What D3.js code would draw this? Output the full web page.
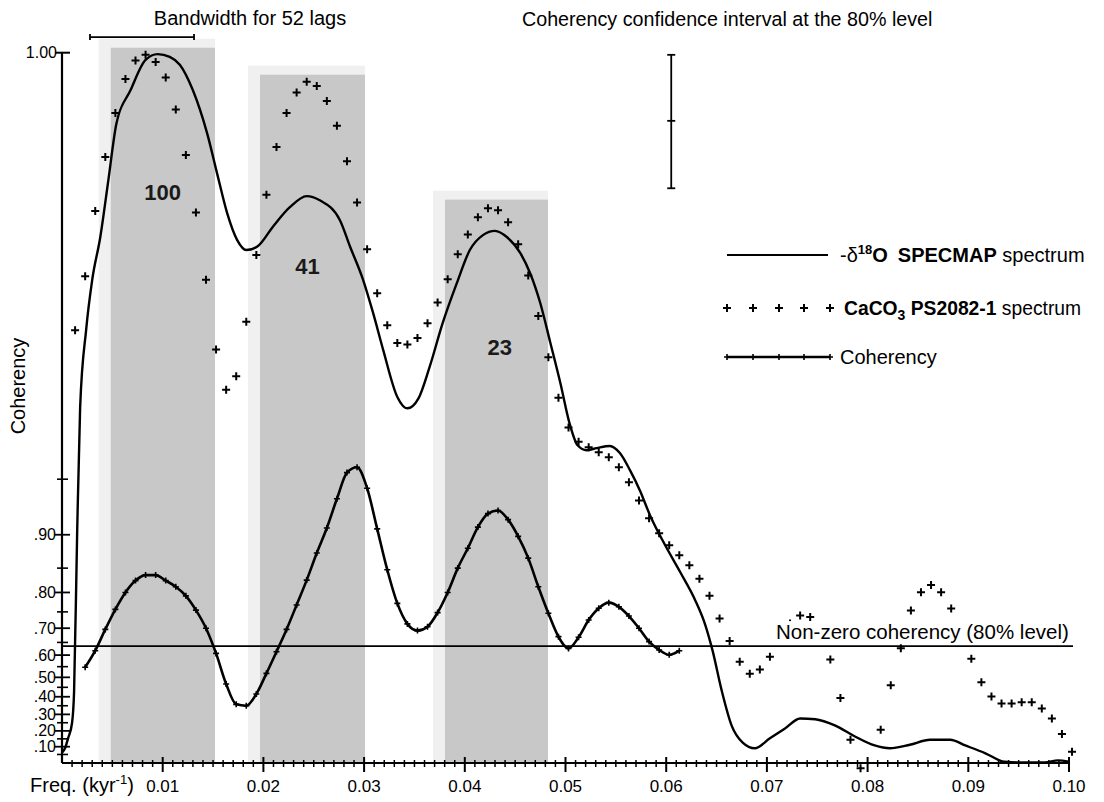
<!DOCTYPE html>
<html><head><meta charset="utf-8">
<script src="https://cdn.jsdelivr.net/npm/d3@7"></script>
<style>
body{margin:0;background:#fff;}
svg{display:block;font-family:"Liberation Sans", Arial, Helvetica, sans-serif;}
</style></head><body>
<svg id="chart" width="1104" height="802"></svg>
<script>
// ---------------- DATA ----------------
// -δ18O SPECMAP spectrum (normalised)
const specmapFreq = [0.0000,0.0003,0.0006,0.0010,0.0012,0.0015,0.0018,0.0024,0.0030,0.0038,0.0046,0.0054,0.0068,0.0083,0.0095,0.0107,0.0117,0.0130,0.0144,0.0154,0.0164,0.0174,0.0183,0.0194,0.0210,0.0226,0.0243,0.0256,0.0276,0.0286,0.0299,0.0309,0.0319,0.0333,0.0343,0.0354,0.0365,0.0378,0.0392,0.0405,0.0418,0.0430,0.0442,0.0455,0.0465,0.0475,0.0485,0.0495,0.0504,0.0512,0.0521,0.0531,0.0544,0.0554,0.0564,0.0574,0.0584,0.0599,0.0614,0.0629,0.0639,0.0646,0.0655,0.0665,0.0676,0.0688,0.0703,0.0718,0.0733,0.0748,0.0768,0.0787,0.0807,0.0822,0.0842,0.0862,0.0882,0.0897,0.0917,0.0936,0.0951,0.0976,0.0989,0.1000];
const specmapValue = [0.014,0.020,0.034,0.056,0.100,0.320,0.500,0.610,0.680,0.740,0.820,0.900,0.947,0.990,0.998,0.994,0.983,0.947,0.887,0.830,0.774,0.736,0.722,0.727,0.756,0.782,0.798,0.792,0.764,0.727,0.680,0.633,0.581,0.515,0.499,0.513,0.557,0.619,0.675,0.722,0.743,0.749,0.740,0.718,0.689,0.647,0.591,0.534,0.478,0.447,0.440,0.443,0.446,0.436,0.412,0.383,0.348,0.306,0.268,0.228,0.193,0.158,0.102,0.052,0.028,0.020,0.034,0.048,0.062,0.061,0.052,0.037,0.024,0.020,0.025,0.032,0.032,0.024,0.013,0.001,0.000,0.000,0.003,0.001];

// CaCO3 PS2082-1 spectrum (normalised), one value per frequency step
const caco3Freq = [0.0013,0.0023,0.0033,0.0043,0.0053,0.0063,0.0073,0.0083,0.0093,0.0103,0.0113,0.0123,0.0133,0.0143,0.0153,0.0163,0.0173,0.0183,0.0193,0.0203,0.0213,0.0223,0.0233,0.0243,0.0253,0.0263,0.0273,0.0283,0.0293,0.0303,0.0313,0.0323,0.0333,0.0343,0.0353,0.0363,0.0373,0.0383,0.0393,0.0403,0.0413,0.0423,0.0433,0.0443,0.0453,0.0463,0.0473,0.0483,0.0493,0.0503,0.0513,0.0523,0.0533,0.0543,0.0553,0.0563,0.0573,0.0583,0.0593,0.0603,0.0613,0.0623,0.0633,0.0643,0.0653,0.0663,0.0673,0.0683,0.0693,0.0703,0.0713,0.0723,0.0733,0.0743,0.0753,0.0763,0.0773,0.0783,0.0793,0.0803,0.0813,0.0823,0.0833,0.0843,0.0853,0.0863,0.0873,0.0883,0.0893,0.0903,0.0913,0.0923,0.0933,0.0943,0.0953,0.0963,0.0973,0.0983,0.0993,0.1003];
const caco3Value = [0.609,0.685,0.777,0.853,0.915,0.963,0.989,0.997,0.987,0.965,
  0.920,0.856,0.775,0.680,0.582,0.525,0.544,0.621,0.715,0.800,
  0.867,0.915,0.944,0.959,0.953,0.932,0.897,0.847,0.789,0.723,
  0.661,0.616,0.591,0.589,0.598,0.619,0.648,0.681,0.716,0.744,
  0.768,0.781,0.778,0.761,0.730,0.686,0.629,0.571,0.514,0.472,
  0.452,0.444,0.437,0.430,0.416,0.395,0.369,0.344,0.323,0.306,
  0.292,0.278,0.259,0.235,0.203,0.171,0.142,0.125,0.131,0.149,
  0.175,0.196,0.207,0.205,0.180,0.145,0.091,0.032,-0.008,null,
  0.046,0.109,0.161,0.214,0.240,0.250,0.240,0.217,0.179,0.146,
  0.113,0.093,0.083,0.083,0.085,0.085,0.076,0.062,0.040,0.015];

// Coherency (plotted on an arctanh scale)
const coherencyFreq = [0.0023,0.0033,0.0043,0.0053,0.0063,0.0073,0.0083,0.0093,0.0103,0.0113,0.0123,0.0133,0.0143,0.0153,0.0163,0.0173,0.0183,0.0193,0.0203,0.0213,0.0223,0.0233,0.0243,0.0253,0.0263,0.0273,0.0283,0.0293,0.0303,0.0313,0.0323,0.0333,0.0343,0.0353,0.0363,0.0373,0.0383,0.0393,0.0403,0.0413,0.0423,0.0433,0.0443,0.0453,0.0463,0.0473,0.0483,0.0493,0.0503,0.0513,0.0523,0.0533,0.0543,0.0553,0.0563,0.0573,0.0583,0.0593,0.0603,0.0613];
const coherencyValue = [0.547,0.618,0.696,0.757,0.800,0.826,0.837,0.837,0.826,0.813,
  0.792,0.755,0.700,0.607,0.467,0.358,0.350,0.415,0.519,0.614,
  0.696,0.769,0.827,0.875,0.908,0.936,0.954,0.957,0.944,0.907,
  0.847,0.773,0.714,0.692,0.705,0.748,0.800,0.850,0.882,0.909,
  0.923,0.926,0.917,0.898,0.867,0.813,0.746,0.671,0.627,0.669,
  0.726,0.760,0.775,0.764,0.738,0.700,0.653,0.621,0.601,0.618];

// Orbital bands (frequency limits and top in spectrum units) and their period labels
const bandStart = [0.00484,0.01966,0.03803];
const bandEnd   = [0.01519,0.03009,0.04826];
const bandTop   = [1.007,0.969,0.793];
const bandPeriod = [100,41,23];
const bandLabelLevel = [0.804,0.700,0.586];

// Annotations
const nonZeroLevel = 0.636;
const bandwidthFreq = [0.00278,0.01311];
const bandwidthLevel = 1.022;
const ciFreq = 0.0605;
const ciLevels = [0.997,0.904,0.809];

// Tick labels
const xTickValues = [0.01,0.02,0.03,0.04,0.05,0.06,0.07,0.08,0.09,0.10];
const xTickLabels = ["0.01","0.02","0.03","0.04","0.05","0.06","0.07","0.08","0.09","0.10"];
const yTickValues = [0.1,0.2,0.3,0.4,0.5,0.6,0.7,0.8,0.9];
const yTickLabels = [".10",".20",".30",".40",".50",".60",".70",".80",".90"];

// ---------------- DRAWING ----------------
const svg = d3.select("#chart");
const x = d3.scaleLinear().domain([0,0.1]).range([62,1069]);
const ySpec = d3.scaleLinear().domain([0,1]).range([762.5,52.7]);
const zTop = Math.atanh(0.95);
const zScale = d3.scaleLinear().domain([0,zTop]).range([762.2,762.2-154.5*zTop]);
const yCoh = c => zScale(Math.atanh(c));

// bands
const bands = bandStart.map((s,i)=>({s, e:bandEnd[i], top:bandTop[i], p:bandPeriod[i], ly:bandLabelLevel[i]}));
const gB = svg.append("g");
gB.selectAll("rect.fr").data(bands).join("rect").attr("class","fr")
  .attr("x",d=>x(d.s)-12).attr("y",d=>ySpec(d.top)-9)
  .attr("width",d=>x(d.e)-x(d.s)+12).attr("height",d=>ySpec(0)-ySpec(d.top)+9)
  .attr("fill","#f0f0f0");
gB.selectAll("rect.bd").data(bands).join("rect").attr("class","bd")
  .attr("x",d=>x(d.s)).attr("y",d=>ySpec(d.top))
  .attr("width",d=>x(d.e)-x(d.s)).attr("height",d=>ySpec(0)-ySpec(d.top))
  .attr("fill","#c8c8c8");
gB.selectAll("text").data(bands).join("text")
  .attr("x",d=>x(1/d.p)).attr("y",d=>ySpec(d.ly)+8)
  .attr("text-anchor","middle").attr("font-weight","bold").attr("font-size",22)
  .attr("fill","#1a1a1a").text(d=>d.p);

// non-zero coherency line
svg.append("line").attr("x1",x(0)).attr("x2",1073)
  .attr("y1",yCoh(nonZeroLevel)).attr("y2",yCoh(nonZeroLevel))
  .attr("stroke","#000").attr("stroke-width",1.8);

// SPECMAP line
const spec = specmapFreq.map((f,i)=>[f,specmapValue[i]]);
svg.append("path").datum(spec)
  .attr("d",d3.line().x(d=>x(d[0])).y(d=>ySpec(d[1])).curve(d3.curveMonotoneX))
  .attr("fill","none").attr("stroke","#000").attr("stroke-width",2.4);

// coherency line with markers
const coh = coherencyFreq.map((f,i)=>[f,coherencyValue[i]]);
svg.append("path").datum(coh)
  .attr("d",d3.line().x(d=>x(d[0])).y(d=>yCoh(d[1])).curve(d3.curveMonotoneX))
  .attr("fill","none").attr("stroke","#000").attr("stroke-width",2.6);
const smallPlus = "M-3,0H3M0,-3V3";
svg.append("g").selectAll("path").data(coh).join("path")
  .attr("transform",d=>`translate(${x(d[0])},${yCoh(d[1])})`)
  .attr("d",smallPlus).attr("stroke","#000").attr("stroke-width",1.6);

// CaCO3 markers
const plus = "M-4,0H4M0,-4V4";
const cc = caco3Freq.map((f,i)=>[f,caco3Value[i]]).filter(d=>d[1]!==null);
svg.append("g").selectAll("path").data(cc).join("path")
  .attr("transform",d=>`translate(${x(d[0])},${ySpec(d[1])})`)
  .attr("d",plus).attr("stroke","#000").attr("stroke-width",2);

// non-zero label with white box
const nzY = yCoh(nonZeroLevel);
svg.append("rect").attr("x",775).attr("y",nzY-25).attr("width",298).attr("height",22).attr("fill","#fff");
svg.append("text").attr("x",776).attr("y",nzY-7).attr("font-size",20.5).text("Non-zero coherency (80% level)");

// axes
const ax = svg.append("g").attr("stroke","#000");
ax.append("line").attr("x1",x(0)).attr("x2",x(0)).attr("y1",ySpec(1)).attr("y2",763).attr("stroke-width",2.2);
ax.append("line").attr("x1",x(0)).attr("x2",x(0.1)).attr("y1",763).attr("y2",763).attr("stroke-width",2.2);
const minor = d3.range(1,100).filter(i=>i%10!==0).map(i=>i/1000);
ax.selectAll("line.xm").data(minor).join("line").attr("class","xm")
  .attr("x1",d=>x(d)).attr("x2",d=>x(d)).attr("y1",760).attr("y2",767).attr("stroke-width",1.5);
ax.selectAll("line.xM").data(xTickValues).join("line").attr("class","xM")
  .attr("x1",d=>x(d)).attr("x2",d=>x(d)).attr("y1",757).attr("y2",772).attr("stroke-width",2);
const yMinor = d3.range(1,20).map(i=>i*0.05).filter(v=>Math.round(v*100)%10!==0);
ax.selectAll("line.ym").data(yMinor).join("line").attr("class","ym")
  .attr("x1",57).attr("x2",68).attr("y1",d=>yCoh(d)).attr("y2",d=>yCoh(d)).attr("stroke-width",1.6);
ax.selectAll("line.yM").data(yTickValues).join("line").attr("class","yM")
  .attr("x1",55).attr("x2",70).attr("y1",d=>yCoh(d)).attr("y2",d=>yCoh(d)).attr("stroke-width",1.8);
ax.append("line").attr("x1",55).attr("x2",70).attr("y1",ySpec(1)).attr("y2",ySpec(1)).attr("stroke-width",2);

// tick labels
svg.append("g").selectAll("text").data(xTickValues).join("text")
  .attr("x",d=>x(d)).attr("y",792).attr("text-anchor","middle").attr("font-size",17)
  .text((d,i)=>xTickLabels[i]);
svg.append("g").selectAll("text").data(yTickValues).join("text")
  .attr("x",56).attr("y",d=>yCoh(d)+5.5).attr("text-anchor","end").attr("font-size",16)
  .text((d,i)=>yTickLabels[i]);
svg.append("text").attr("x",57).attr("y",ySpec(1)+5.5).attr("text-anchor","end").attr("font-size",16).text("1.00");

// axis titles
const fx = svg.append("text").attr("x",30).attr("y",792).attr("font-size",20);
fx.append("tspan").text("Freq. (kyr");
fx.append("tspan").attr("dy",-8).attr("font-size",13).text("-1");
fx.append("tspan").attr("dy",8).text(")");
svg.append("text").attr("transform","translate(25,386) rotate(-90)")
  .attr("text-anchor","middle").attr("font-size",20).text("Coherency");

// bandwidth bar
const bwY = ySpec(bandwidthLevel);
ax.append("line").attr("x1",x(bandwidthFreq[0])).attr("x2",x(bandwidthFreq[1])).attr("y1",bwY).attr("y2",bwY).attr("stroke-width",1.8);
ax.selectAll("line.bwc").data(bandwidthFreq).join("line").attr("class","bwc")
  .attr("x1",d=>x(d)).attr("x2",d=>x(d)).attr("y1",bwY-3).attr("y2",bwY+3).attr("stroke-width",1.8);
svg.append("text").attr("x",250).attr("y",25).attr("text-anchor","middle").attr("font-size",20).text("Bandwidth for 52 lags");

// confidence interval bar
const ciX = x(ciFreq);
ax.append("line").attr("x1",ciX).attr("x2",ciX).attr("y1",ySpec(ciLevels[0])).attr("y2",ySpec(ciLevels[2])).attr("stroke-width",1.8);
ax.selectAll("line.cic").data(ciLevels).join("line").attr("class","cic")
  .attr("x1",ciX-4).attr("x2",ciX+4).attr("y1",d=>ySpec(d)).attr("y2",d=>ySpec(d)).attr("stroke-width",1.8);
svg.append("text").attr("x",522).attr("y",26).attr("font-size",19.7).text("Coherency confidence interval at the 80% level");

// legend
const lg = svg.append("g");
const lgX = [727,753,779,804,830];
lg.append("line").attr("x1",727).attr("x2",828).attr("y1",255).attr("y2",255).attr("stroke","#000").attr("stroke-width",2.2);
const t1 = lg.append("text").attr("x",840).attr("y",262).attr("font-size",20);
t1.append("tspan").text("-δ");
t1.append("tspan").attr("dy",-8).attr("font-size",13).attr("font-weight","bold").text("18");
t1.append("tspan").attr("dy",8).attr("font-weight","bold").text("O");
t1.append("tspan").attr("font-weight","bold").attr("dx",10).text("SPECMAP");
t1.append("tspan").text(" spectrum");
lg.selectAll("path.p2").data(lgX).join("path").attr("class","p2")
  .attr("transform",d=>`translate(${d},308)`).attr("d",plus).attr("stroke","#000").attr("stroke-width",2);
const t2 = lg.append("text").attr("x",844).attr("y",315).attr("font-size",19.3);
t2.append("tspan").attr("font-weight","bold").text("CaCO");
t2.append("tspan").attr("dy",5).attr("font-size",14).attr("font-weight","bold").text("3");
t2.append("tspan").attr("dy",-5).attr("font-weight","bold").text(" PS2082-1");
t2.append("tspan").text(" spectrum");
lg.append("line").attr("x1",727).attr("x2",830).attr("y1",357).attr("y2",357).attr("stroke","#000").attr("stroke-width",2.4);
lg.selectAll("path.p3").data(lgX).join("path").attr("class","p3")
  .attr("transform",d=>`translate(${d},357)`).attr("d",smallPlus).attr("stroke","#000").attr("stroke-width",1.6);
lg.append("text").attr("x",840).attr("y",364).attr("font-size",20).text("Coherency");
</script>
</body></html>
